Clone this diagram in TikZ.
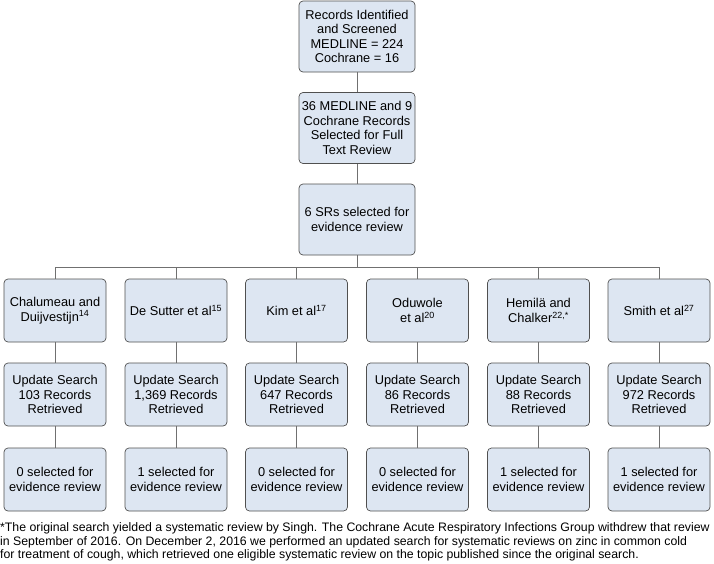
\documentclass[tikz,border=0pt]{standalone}
\usepackage{fontspec}
\setmainfont{Liberation Sans}
\begin{document}
\begin{tikzpicture}[x=1pt,y=-1pt,
  box/.style={draw=boxline, fill=boxfill, rounded corners=4pt, line width=0.7pt,
    align=center, inner sep=0pt, font=\fontsize{12.8}{14.6}\selectfont},
  topbox/.style={box, minimum width=116pt, minimum height=71pt},
  rowbox/.style={box, minimum width=102pt, minimum height=63pt},
  conn/.style={draw=connline, line width=1pt}]
\definecolor{boxfill}{HTML}{DDE6F2}
\definecolor{boxline}{HTML}{505050}
\definecolor{connline}{HTML}{707070}
\useasboundingbox (0,0) rectangle (714,563);

\node[topbox] (t1) at (357,36.5) {Records Identified\\and Screened\\MEDLINE = 224\\Cochrane = 16};
\node[topbox] (t2) at (357,128) {36 MEDLINE and 9\\Cochrane Records\\Selected for Full\\Text Review};
\node[topbox] (t3) at (357,219.5) {6 SRs selected for\\evidence review};

\foreach \i/\x/\name/\cnt/\sel in {
  1/55/{Chalumeau and\\Duijvestijn\textsuperscript{14}}/103/0,
  2/176/{De Sutter et al\textsuperscript{15}}/{1,369}/1,
  3/296.5/{Kim et al\textsuperscript{17}}/647/0,
  4/417.5/{Oduwole\\et al\textsuperscript{20}}/86/0,
  5/538.5/{Hemilä and\\Chalker\textsuperscript{22,*}}/88/1,
  6/659/{Smith et al\textsuperscript{27}}/972/1} {
  \node[rowbox] (a\i) at (\x,310.5) {\name};
  \node[rowbox] (b\i) at (\x,394.5) {Update Search\\\cnt{} Records\\Retrieved};
  \node[rowbox] (c\i) at (\x,479.5) {\sel{} selected for\\evidence review};
}

\coordinate (hl) at (55,267);
\coordinate (hr) at (659,267);
\coordinate (hm) at (357,267);

\draw[conn] (t1.south) -- (t2.north);
\draw[conn] (t2.south) -- (t3.north);
\draw[conn] (t3.south) -- (hm);
\draw[conn] (hl) -- (hr);
\foreach \i in {1,...,6} {
  \draw[conn] (a\i.north |- hm) -- (a\i.north);
  \draw[conn] (a\i.south) -- (b\i.north);
  \draw[conn] (b\i.south) -- (c\i.north);
}

\node[anchor=north west, inner sep=0pt, align=left,
  font=\fontsize{12.3}{13.4}\selectfont] (fn) at (0,522.5)
{*The original search yielded a systematic review by Singh. The Cochrane Acute Respiratory Infections Group withdrew that review\\
in September of 2016. On December 2, 2016 we performed an updated search for systematic reviews on zinc in common cold\\
for treatment of cough, which retrieved one eligible systematic review on the topic published since the original search.};
\end{tikzpicture}
\end{document}
